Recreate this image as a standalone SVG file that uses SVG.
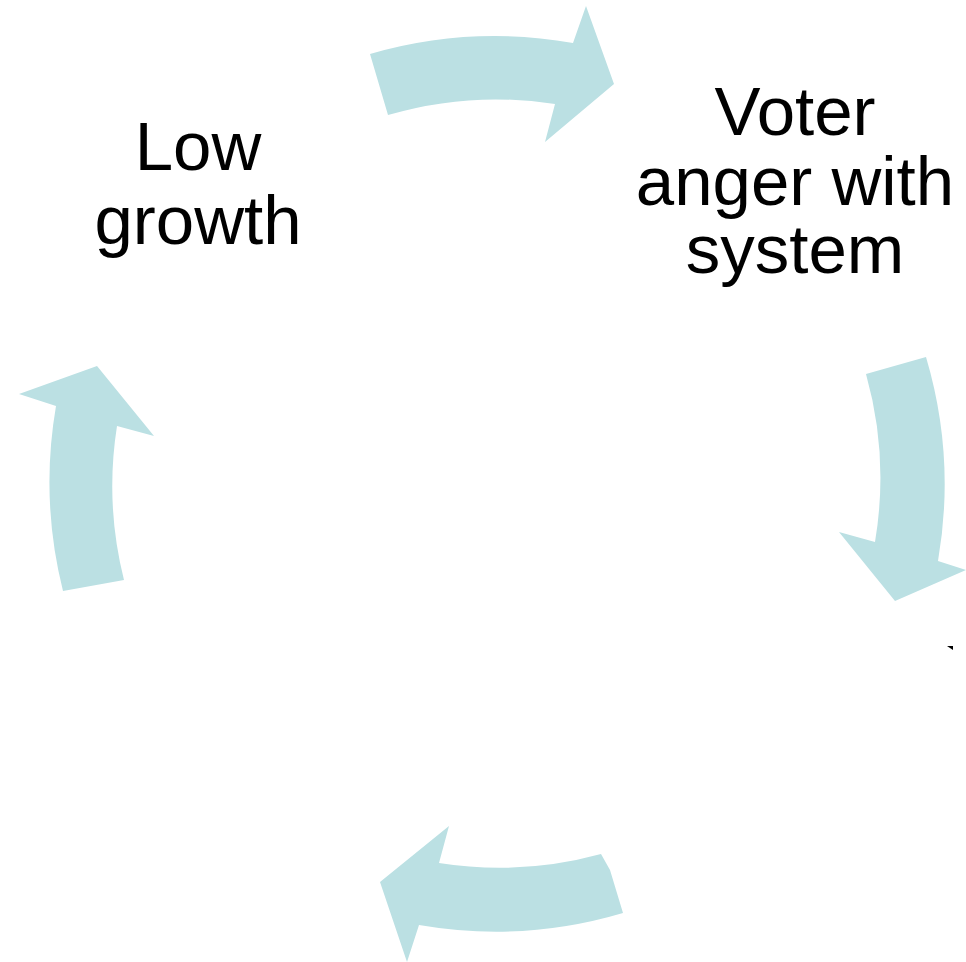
<svg xmlns="http://www.w3.org/2000/svg" width="966" height="962" viewBox="0 0 966 962">
<style>
.arrow{fill:#bbe0e3;stroke:none}
.lbl{font-family:"Liberation Sans",Arial,sans-serif;font-size:69px;fill:#000;text-anchor:middle}
</style>
<rect width="966" height="962" fill="#fff"/>
<g id="connectors">
<path id="arrow-top" class="arrow" d="M370,54 A448,448 0 0 1 573,43 L586,6 L614,84 L545,142 L555,104 A385,385 0 0 0 388,115 Z"/>
<path id="arrow-right" class="arrow" d="M926,357 A448,448 0 0 1 938,561 L966,570 L895,601 L839,532 L875,542 A385,385 0 0 0 866,374 Z"/>
<path id="arrow-bottom" class="arrow" d="M601,854 L610,870 L623,913 A448,448 0 0 1 419,925 L407,962 L380,882 L449,826 L439,863 A385,385 0 0 0 601,854 Z"/>
<path id="arrow-left" class="arrow" d="M63,591 A448,448 0 0 1 56,406 L19,394 L97,366 L154,436 L117,426 A385,385 0 0 0 124,580 Z"/>
</g>
<g id="node-low-growth">
<text class="lbl" x="198" y="170">Low</text>
<text class="lbl" x="198" y="244">growth</text>
</g>
<g id="node-voter-anger">
<text class="lbl" x="795" y="135">Voter</text>
<text class="lbl" x="795" y="205">anger with</text>
<text class="lbl" x="795" y="273">system</text>
</g>
<path d="M947,646 L953,646 L953,650 Z" fill="#000"/>
</svg>
